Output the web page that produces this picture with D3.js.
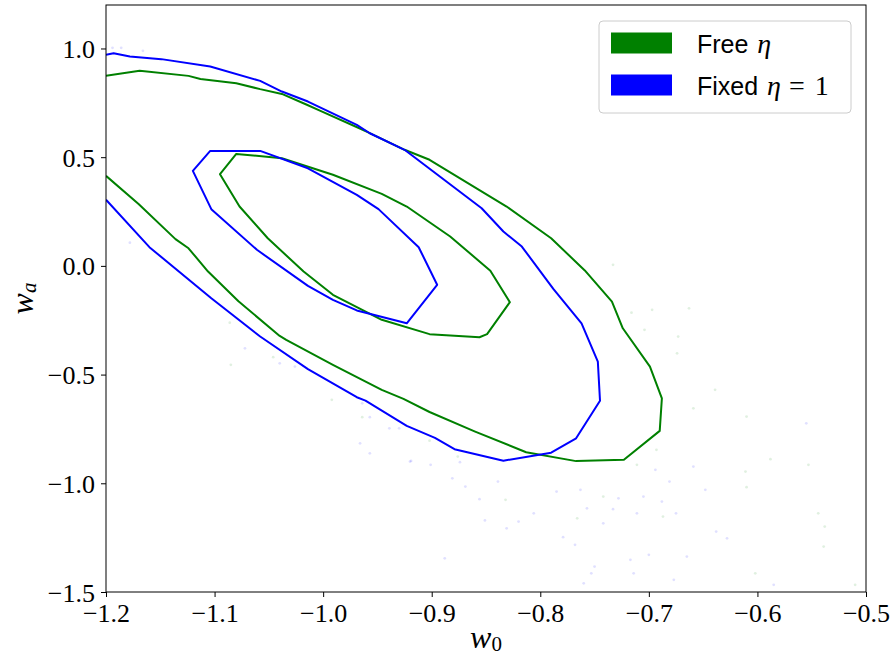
<!DOCTYPE html>
<html>
<head>
<meta charset="utf-8">
<script src="https://cdn.jsdelivr.net/npm/d3@7"></script>
<style>
  body { margin: 0; background: #fff; }
  svg { display: block; }
</style>
</head>
<body>
<script>
// contour vertices [w0, wa]
const freeOuter = [
  [-1.200, 0.874], [-1.169, 0.898], [-1.124, 0.874], [-1.113, 0.860], [-1.080, 0.840],
  [-1.058, 0.813], [-1.038, 0.791], [-1.015, 0.741], [-1.003, 0.714], [-0.960, 0.618],
  [-0.925, 0.534], [-0.902, 0.488], [-0.831, 0.273], [-0.790, 0.127], [-0.759, -0.021],
  [-0.734, -0.164], [-0.724, -0.287], [-0.699, -0.463], [-0.688, -0.609], [-0.690, -0.759],
  [-0.723, -0.892], [-0.767, -0.898], [-0.813, -0.857], [-0.860, -0.762], [-0.902, -0.672],
  [-0.926, -0.612], [-0.946, -0.570], [-0.991, -0.455], [-1.034, -0.340], [-1.040, -0.322],
  [-1.078, -0.163], [-1.106, -0.026], [-1.124, 0.081], [-1.136, 0.123], [-1.170, 0.285],
  [-1.200, 0.414]
]
const freeInner = [
  [-1.080, 0.515], [-1.038, 0.495], [-0.991, 0.419], [-0.946, 0.331], [-0.923, 0.273],
  [-0.883, 0.135], [-0.846, -0.022], [-0.828, -0.167], [-0.849, -0.314], [-0.856, -0.328],
  [-0.902, -0.314], [-0.946, -0.248], [-0.991, -0.133], [-1.018, -0.026], [-1.051, 0.127],
  [-1.077, 0.273], [-1.095, 0.422]
]
const fixedOuter = [
  [-1.200, 0.971], [-1.193, 0.978], [-1.178, 0.963], [-1.149, 0.951], [-1.104, 0.917],
  [-1.058, 0.851], [-1.038, 0.802], [-1.014, 0.756], [-0.969, 0.649], [-0.957, 0.610],
  [-0.925, 0.534], [-0.854, 0.265], [-0.834, 0.158], [-0.817, 0.089], [-0.788, -0.106],
  [-0.762, -0.264], [-0.747, -0.440], [-0.745, -0.620], [-0.767, -0.793], [-0.790, -0.859],
  [-0.834, -0.896], [-0.879, -0.843], [-0.897, -0.791], [-0.923, -0.736], [-0.961, -0.620],
  [-0.969, -0.604], [-1.014, -0.475], [-1.058, -0.325], [-1.103, -0.149], [-1.160, 0.086],
  [-1.200, 0.304]
]
const fixedInner = [
  [-1.104, 0.529], [-1.058, 0.529], [-1.014, 0.449], [-0.969, 0.327], [-0.949, 0.261],
  [-0.912, 0.086], [-0.895, -0.087], [-0.923, -0.264], [-0.969, -0.205], [-0.991, -0.156],
  [-1.014, -0.092], [-1.061, 0.074], [-1.103, 0.261], [-1.120, 0.437]
]

// faint posterior samples outside the contours
const fixedSamples = [
  [-0.919, -0.897], [-0.901, -0.915], [-0.881, -0.977], [-0.874, -0.903], [-0.869, -1.015],
  [-0.856, -1.073], [-0.851, -1.171], [-0.839, -0.992], [-0.831, -1.207], [-0.820, -1.176],
  [-0.806, -1.138], [-0.785, -1.038], [-0.779, -1.248], [-0.768, -1.283], [-0.763, -1.030],
  [-0.757, -1.115], [-0.750, -1.383], [-0.742, -1.184], [-0.733, -1.119], [-0.728, -1.069],
  [-0.717, -1.352], [-0.714, -1.414], [-0.711, -1.138], [-0.705, -1.061], [-0.700, -1.329],
  [-0.694, -0.938], [-0.688, -1.084], [-0.681, -0.992], [-0.675, -1.138], [-0.677, -1.444],
  [-0.665, -1.337], [-0.659, -0.923], [-0.648, -1.030], [-0.638, -1.222], [-0.628, -1.253],
  [-0.585, -1.467], [-0.555, -0.724], [-0.888, -1.345], [-0.760, -1.460], [-0.753, -1.414],
  [-1.194, 1.003], [-1.186, 1.003], [-1.166, 0.989], [-1.072, -0.379], [-1.040, -0.448],
  [-1.026, -0.463], [-0.964, -0.632], [-0.957, -0.696], [-0.966, -0.816], [-0.957, -0.862],
  [-0.939, -0.747], [-0.930, -0.747], [-0.920, -0.900], [-1.178, 0.107]
]
const freeSamples = [
  [-0.733, 0.005], [-0.716, -0.215], [-0.704, -0.294], [-0.697, -0.202], [-0.674, -0.402],
  [-0.673, -0.325], [-0.663, -0.195], [-0.639, -0.570], [-0.659, -0.655], [-0.610, -0.693],
  [-0.611, -0.946], [-0.610, -1.018], [-0.588, -0.889], [-0.553, -0.915], [-0.544, -1.138],
  [-0.538, -1.199], [-0.539, -1.291], [-0.602, -1.414], [-0.510, -1.467], [-0.687, -1.153],
  [-0.711, -0.915], [-0.742, -1.061], [-0.766, -1.161], [-0.832, -1.076], [-0.693, -0.846],
  [-1.086, -0.261], [-1.085, -0.455], [-1.046, -0.420], [-0.992, -0.616], [-0.964, -0.696],
  [-0.902, -0.804], [-0.876, -0.877]
]

const xTicks = [-1.2, -1.1, -1.0, -0.9, -0.8, -0.7, -0.6, -0.5]
const yTicks = [-1.5, -1.0, -0.5, 0.0, 0.5, 1.0]

const dims = {width: 896, height: 655, marginLeft: 106, marginRight: 30, marginTop: 5, marginBottom: 63}
const green = "#008000"
const blue = "#0000ff"
const serif = "'Liberation Serif', 'DejaVu Serif', serif"
const sans = "'Liberation Sans', 'DejaVu Sans', sans-serif"

const {width, height, marginLeft, marginRight, marginTop, marginBottom} = dims
const x = d3.scaleLinear().domain([-1.2, -0.5]).range([marginLeft, width - marginRight])
const y = d3.scaleLinear().domain([-1.5, 1.2]).range([height - marginBottom, marginTop])

const svg = d3.select("body").append("svg")
    .attr("width", width)
    .attr("height", height)

svg.append("clipPath").attr("id", "plot-clip")
    .append("rect")
    .attr("x", marginLeft).attr("y", marginTop)
    .attr("width", width - marginLeft - marginRight)
    .attr("height", height - marginTop - marginBottom)

const plot = svg.append("g").attr("clip-path", "url(#plot-clip)")

// samples
const appendSamples = (data, color) => {
    plot.append("g")
        .selectAll("circle")
        .data(data)
        .join("circle")
        .attr("cx", d => x(d[0]))
        .attr("cy", d => y(d[1]))
        .attr("r", 1.4)
        .attr("fill", color)
        .attr("opacity", 0.12)
}
appendSamples(freeSamples, green)
appendSamples(fixedSamples, blue)

// contours
const line = d3.line().x(d => x(d[0])).y(d => y(d[1]))
const appendContour = (data, color, closed) => {
    plot.append("path")
        .attr("fill", "none")
        .attr("stroke", color)
        .attr("stroke-width", 2)
        .attr("stroke-linejoin", "round")
        .attr("d", line(data) + (closed ? "Z" : ""))
}
appendContour(freeOuter, green, false)
appendContour(freeInner, green, true)
appendContour(fixedOuter, blue, false)
appendContour(fixedInner, blue, true)

// axes
const fmt = d => d3.format(".1f")(d).replace("-", "\u2212")
const xAxis = svg.append("g")
    .attr("transform", `translate(0,${height - marginBottom})`)
    .call(d3.axisBottom(x).tickValues(xTicks).tickSize(5).tickPadding(7).tickFormat(fmt))
const yAxis = svg.append("g")
    .attr("transform", `translate(${marginLeft},0)`)
    .call(d3.axisLeft(y).tickValues(yTicks).tickSize(5).tickPadding(6).tickFormat(fmt))
;[xAxis, yAxis].forEach(g => {
    g.selectAll("text").style("font-family", serif).style("font-size", "26px").attr("fill", "#000")
    g.selectAll("line").attr("stroke", "#000")
    g.select(".domain").remove()
})
yAxis.selectAll("text").attr("dy", "0.35em")

// frame
svg.append("rect")
    .attr("x", marginLeft).attr("y", marginTop)
    .attr("width", width - marginLeft - marginRight)
    .attr("height", height - marginTop - marginBottom)
    .attr("fill", "none")
    .attr("stroke", "#000")
    .attr("stroke-width", 1)

// axis labels
const xLabel = svg.append("text")
    .attr("x", (marginLeft + width - marginRight) / 2)
    .attr("y", 648)
    .attr("text-anchor", "middle")
    .style("font-family", serif)
    .style("font-size", "32px")
xLabel.append("tspan").style("font-style", "italic").text("w")
xLabel.append("tspan").attr("dy", 3).style("font-size", "21px").text("0")

const yLabel = svg.append("text")
    .attr("transform", `translate(33,${(marginTop + height - marginBottom) / 2}) rotate(-90)`)
    .attr("text-anchor", "middle")
    .style("font-family", serif)
    .style("font-size", "32px")
yLabel.append("tspan").style("font-style", "italic").text("w")
yLabel.append("tspan").attr("dy", 3).style("font-style", "italic").style("font-size", "21px").text("a")

// legend
const legendEntries = [
    {label: "Free ", math: "", color: green},
    {label: "Fixed ", math: "1", color: blue}
]
const legend = svg.append("g").attr("class", "legend").attr("transform", "translate(599,21)")
legend.append("rect")
    .attr("width", 252)
    .attr("height", 92)
    .attr("rx", 4)
    .attr("fill", "#fff")
    .attr("fill-opacity", 0.8)
    .attr("stroke", "#cccccc")
    .attr("stroke-width", 1)
legendEntries.forEach((d, i) => {
    const item = legend.append("g").attr("transform", `translate(0,${i * 42})`)
    item.append("rect")
        .attr("x", 12).attr("y", 11.5)
        .attr("width", 61).attr("height", 21)
        .attr("fill", d.color)
    const t = item.append("text")
        .attr("x", 98).attr("y", 32)
        .style("font-family", sans)
        .style("font-size", "25px")
    t.append("tspan").text(d.label)
    t.append("tspan").attr("dx", 2).style("font-family", serif).style("font-style", "italic").style("font-size", "28px").text("\u03b7")
    if (d.math) {
        t.append("tspan").attr("dx", 8).style("font-family", serif).style("font-size", "28px").text("=")
        t.append("tspan").attr("dx", 10).style("font-family", serif).style("font-size", "28px").text(d.math)
    }
})
</script>
</body>
</html>
